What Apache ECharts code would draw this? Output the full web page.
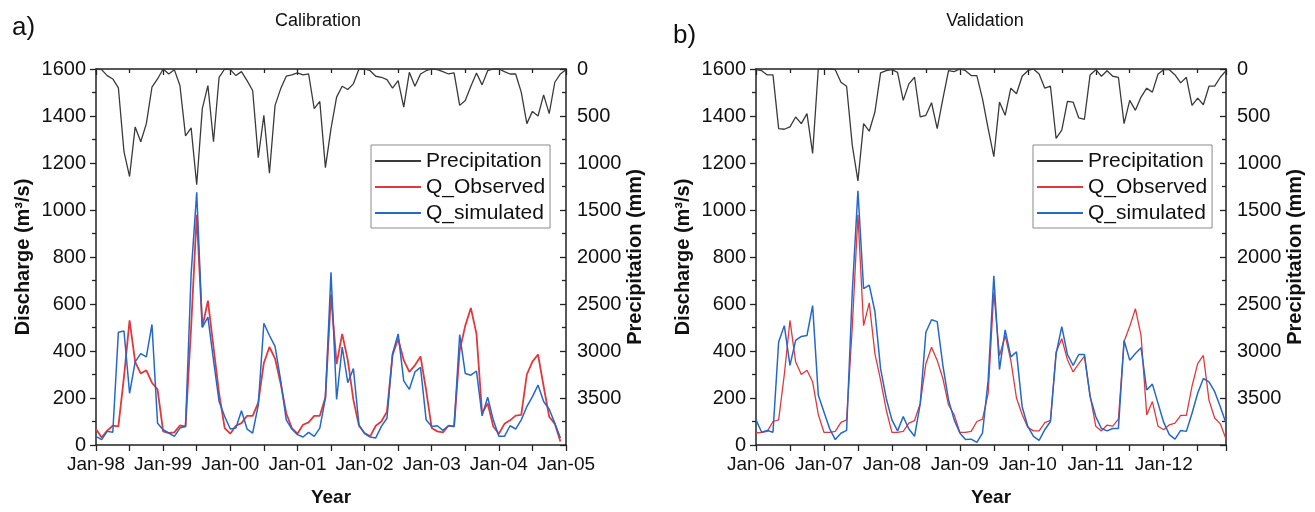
<!DOCTYPE html>
<html>
<head>
<meta charset="utf-8">
<script src="https://cdn.jsdelivr.net/npm/echarts@6/dist/echarts.min.js"></script>
<style>
html,body{margin:0;padding:0;background:#fff;}
#chart{width:1315px;height:512px;}
</style>
</head>
<body>
<div id="chart"></div>
<script>
// ---------- DATA ----------
const seriesNames = ['Precipitation', 'Q_Observed', 'Q_simulated'];
const tickLabelsCal = ['Jan-98','Jan-99','Jan-00','Jan-01','Jan-02','Jan-03','Jan-04','Jan-05'];
const tickLabelsVal = ['Jan-06','Jan-07','Jan-08','Jan-09','Jan-10','Jan-11','Jan-12'];

// Calibration (monthly, Jan-98 onwards)
const precipCal = [
  0,7,70,106,200,880,1144,616,774,581,194,106,
  0,53,7,176,711,627,1232,422,176,774,88,0,
  7,70,28,123,229,943,493,1109,387,211,77,63,
  42,63,53,422,345,1049,634,299,183,218,158,0,
  0,18,77,88,113,204,123,405,35,183,53,18,
  0,7,28,53,42,387,334,183,42,169,18,0,
  0,28,53,53,246,581,451,500,275,475,141,53,
  7];
const obsCal = [
  68,32,61,82,79,290,530,354,304,318,265,237,
  58,51,54,83,79,501,980,501,614,417,220,72,
  48,82,93,124,124,180,349,417,368,262,135,72,
  48,86,96,124,124,203,640,344,473,361,192,82,
  51,37,82,100,142,382,452,361,311,339,377,234,
  72,58,54,82,79,403,508,583,473,135,177,79,
  48,90,105,125,128,300,355,385,250,120,90,15];
const simCal = [
  37,23,58,54,480,485,220,354,389,375,513,93,
  65,51,37,72,79,727,1075,501,544,361,185,121,
  68,72,146,68,51,170,518,466,420,276,107,68,
  44,34,54,37,72,199,735,194,417,265,325,86,
  48,34,30,79,114,389,473,273,237,311,330,107,
  79,82,62,82,79,470,304,297,315,124,203,107,
  37,37,82,68,107,163,206,255,185,152,93,30];

// Validation (monthly, Jan-06 onwards)
const precipVal = [
  7,18,63,63,634,641,616,511,581,475,898,0,
  0,0,7,141,183,810,1190,581,662,458,42,18,
  7,35,334,158,88,510,493,359,634,317,18,28,
  0,18,70,70,317,634,933,352,493,204,264,77,
  18,0,53,204,183,739,651,345,352,521,535,63,
  7,77,18,77,88,581,334,440,299,204,246,53,
  7,7,63,148,88,387,310,380,183,183,88,18];
const obsVal = [
  51,54,58,100,107,300,530,354,300,318,269,130,
  54,54,58,96,107,500,980,508,605,389,276,149,
  54,54,58,93,104,177,346,416,360,283,170,128,
  54,54,58,100,110,220,650,380,465,360,200,130,
  75,60,60,95,105,396,452,363,311,346,378,210,
  80,60,85,80,110,440,505,580,465,128,185,80,
  65,86,93,126,126,250,346,381,190,115,90,25];
const simVal = [
  107,54,62,54,438,508,339,445,462,466,593,213,
  140,70,23,50,62,650,1082,665,680,568,325,198,
  107,60,121,68,37,175,480,533,525,339,192,107,
  51,23,25,11,51,276,720,321,490,375,396,163,
  79,37,20,65,100,389,504,385,339,385,385,206,
  121,70,60,70,70,445,361,389,414,234,259,177,
  96,44,25,62,58,135,220,283,269,227,163,93];

// ---------- STYLE ----------
const FONT = '"Liberation Sans", Arial, sans-serif';
const C_P = '#3a3a3a', C_O = '#e2383c', C_S = '#2468cc';
const toPairs = arr => arr.map((v, i) => [i, v]);
const TICK = {color: '#222', width: 1.3};

function xAxes(gi, max, labels) {
  const base = {
    gridIndex: gi, type: 'value', min: 0, max: max, interval: 12,
    splitLine: {show: false},
    axisLine: {show: true, onZero: false, lineStyle: {color: '#222', width: 1.5}}
  };
  return [
    Object.assign({}, base, {
      position: 'bottom',
      axisTick: {show: true, inside: false, length: 6, lineStyle: TICK},
      minorTick: {show: true, splitNumber: 2, length: 6, lineStyle: TICK},
      axisLabel: {show: true, fontSize: 19, color: '#111', fontFamily: FONT, margin: 10,
        formatter: v => (v % 12 === 0 && labels[v / 12]) ? labels[v / 12] : ''},
      name: 'Year', nameLocation: 'middle', nameGap: 43,
      nameTextStyle: {fontSize: 19, fontWeight: 'bold', color: '#111', fontFamily: FONT}
    }),
    Object.assign({}, base, {
      position: 'top',
      axisTick: {show: true, inside: true, length: 6, lineStyle: TICK},
      minorTick: {show: true, splitNumber: 2, length: 4, lineStyle: TICK},
      axisLabel: {show: false}
    })
  ];
}

function yAxes(gi) {
  return [
    {
      gridIndex: gi, type: 'value', min: 0, max: 1600, interval: 200, position: 'left',
      splitLine: {show: false},
      axisLine: {show: true, onZero: false, lineStyle: {color: '#222', width: 1.5}},
      axisTick: {show: true, inside: false, length: 6, lineStyle: TICK},
      minorTick: {show: true, splitNumber: 2, length: 4, lineStyle: TICK},
      axisLabel: {fontSize: 20, color: '#111', fontFamily: FONT, margin: 10,
        formatter: v => String(v)},
      name: 'Discharge (m³/s)', nameLocation: 'middle', nameRotate: 90, nameGap: 63,
      nameTextStyle: {fontSize: 20, fontWeight: 'bold', color: '#111', fontFamily: FONT}
    },
    {
      gridIndex: gi, type: 'value', min: 0, max: 4000, interval: 500, inverse: true, position: 'right',
      splitLine: {show: false},
      axisLine: {show: true, onZero: false, lineStyle: {color: '#222', width: 1.5}},
      axisTick: {show: true, inside: true, length: 6, lineStyle: TICK},
      minorTick: {show: true, splitNumber: 2, length: 4, lineStyle: TICK},
      axisLabel: {fontSize: 20, color: '#111', fontFamily: FONT, margin: 11,
        formatter: v => (v >= 4000 ? '' : String(v))},
      name: 'Precipitation (mm)', nameLocation: 'middle', nameRotate: 90, nameGap: 52,
      nameTextStyle: {fontSize: 20, fontWeight: 'bold', color: '#111', fontFamily: FONT}
    }
  ];
}

function panelSeries(gi, p, o, s, redWidth) {
  const xi = gi * 2, yi = gi * 2;
  return [
    {name: seriesNames[0], type: 'line', xAxisIndex: xi, yAxisIndex: yi + 1, data: toPairs(p),
     symbol: 'none', lineStyle: {color: C_P, width: 1.3}, itemStyle: {color: C_P}},
    {name: seriesNames[1], type: 'line', xAxisIndex: xi, yAxisIndex: yi, data: toPairs(o),
     symbol: 'none', lineStyle: {color: C_O, width: redWidth}, itemStyle: {color: C_O}},
    {name: seriesNames[2], type: 'line', xAxisIndex: xi, yAxisIndex: yi, data: toPairs(s),
     symbol: 'none', lineStyle: {color: C_S, width: 1.5}, itemStyle: {color: C_S}}
  ];
}

function legend(left) {
  return {
    data: seriesNames.map(n => ({name: n, icon: 'rect'})),
    orient: 'vertical', left: left, top: 145,
    itemWidth: 46, itemHeight: 2, itemGap: 4,
    borderColor: '#8a8a8a', borderWidth: 1, borderRadius: 0, padding: [5, 5, 4, 4],
    backgroundColor: '#fff',
    textStyle: {fontSize: 21, color: '#111', fontFamily: FONT, lineHeight: 22},
    selectedMode: false
  };
}

const chart = echarts.init(document.getElementById('chart'), null, {renderer: 'canvas'});
chart.setOption({
  animation: false,
  backgroundColor: '#fff',
  textStyle: {fontFamily: FONT},
  grid: [
    {left: 96, top: 69, width: 470, height: 378, containLabel: false},
    {left: 756, top: 69, width: 470, height: 378, containLabel: false}
  ],
  xAxis: [].concat(xAxes(0, 84, tickLabelsCal), xAxes(1, 83, tickLabelsVal)),
  yAxis: [].concat(yAxes(0), yAxes(1)),
  legend: [legend(371), legend(1033)],
  graphic: [
    {type: 'text', left: 12, top: 15, style: {text: 'a)', fontSize: 26, fill: '#111', fontFamily: FONT}},
    {type: 'text', left: 673, top: 23, style: {text: 'b)', fontSize: 26, fill: '#111', fontFamily: FONT}},
    {type: 'text', x: 318, y: 12, style: {text: 'Calibration', fontSize: 18, fill: '#111', fontFamily: FONT, align: 'center'}},
    {type: 'text', x: 985, y: 12, style: {text: 'Validation', fontSize: 18, fill: '#111', fontFamily: FONT, align: 'center'}}
  ],
  series: [].concat(
    panelSeries(0, precipCal, obsCal, simCal, 1.8),
    panelSeries(1, precipVal, obsVal, simVal, 1.3)
  )
});
</script>
</body>
</html>
